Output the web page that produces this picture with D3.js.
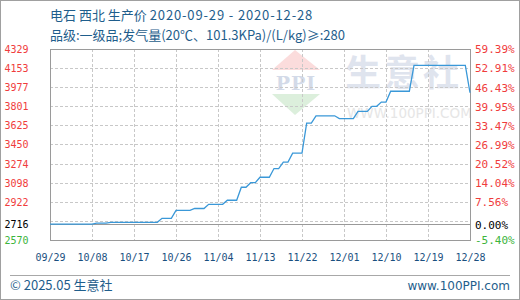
<!DOCTYPE html>
<html>
<head>
<meta charset="utf-8">
<script src="https://cdn.jsdelivr.net/npm/d3@7"></script>
<style>
  body { margin: 0; background: #fff; }
  svg { display: block; }
</style>
</head>
<body>
<svg id="chart" width="520" height="300"></svg>
<script>
// values
const dates = ["2020-09-29","2020-10-08","2020-10-09","2020-10-11","2020-10-12","2020-10-22",
  "2020-10-23","2020-10-25","2020-10-26","2020-10-29","2020-10-30","2020-11-01","2020-11-02",
  "2020-11-05","2020-11-06","2020-11-08","2020-11-09","2020-11-10","2020-11-11","2020-11-12",
  "2020-11-13","2020-11-15","2020-11-16","2020-11-17","2020-11-18","2020-11-19","2020-11-20",
  "2020-11-22","2020-11-23","2020-11-24","2020-11-25","2020-11-29","2020-11-30","2020-12-03",
  "2020-12-04","2020-12-06","2020-12-07","2020-12-08","2020-12-09","2020-12-10","2020-12-11",
  "2020-12-15","2020-12-16","2020-12-27","2020-12-28"];
const prices = [2716,2716,2725,2725,2733,2733,
  2770,2770,2842,2842,2860,2860,2899,
  2899,2936,2936,3056,3056,3098,3098,
  3148,3148,3228,3228,3287,3287,3370,
  3370,3646,3646,3714,3714,3688,3688,
  3755,3755,3801,3801,3840,3840,3940,
  3940,4178,4178,3926];

const leftTicks = [4329,4153,3977,3801,3625,3450,3274,3098,2922,2716,2570];
const rightLabels = ["59.39%","52.91%","46.43%","39.95%","33.47%","26.99%","20.52%","14.04%","7.56%","0.00%","-5.40%"];
const gridValues = [4153,3977,3801,3625,3450,3274,3098,2922,2746];
const xTickDates = ["2020-09-29","2020-10-08","2020-10-17","2020-10-26","2020-11-04","2020-11-13",
  "2020-11-22","2020-12-01","2020-12-10","2020-12-19","2020-12-28"];
const basePrice = 2716;

const parse = d3.timeParse("%Y-%m-%d");
const L = 50, R = 470, T = 49, B = 240;

const svg = d3.select("#chart");
const x = d3.scaleTime().domain([parse("2020-09-29"), parse("2020-12-28")]).range([L, R]);
const y = d3.scaleLinear().domain([2570, 4329]).range([B, T]);

// outer frame
svg.append("rect").attr("x", 0.5).attr("y", 0.5).attr("width", 519).attr("height", 299)
  .attr("fill", "#fff").attr("stroke", "#a0a0a0");

// titles
const titleFont = "'Noto Sans CJK SC', 'Noto Sans', sans-serif";
const t1 = svg.append("text").attr("x", 50).attr("y", 19.5).attr("font-family", titleFont)
  .attr("font-size", 13).attr("fill", "#1f5e8c");
t1.append("tspan").text("电石 西北 生产价 ");
t1.append("tspan").attr("letter-spacing", 0.85).text("2020-09-29 - 2020-12-28");
svg.append("text").attr("x", 50).attr("y", 39.5).attr("font-family", titleFont)
  .attr("font-size", 13).attr("fill", "#1f5e8c").text("品级:一级品;发气量(20℃、101.3KPa)/(L/kg)≥:280");

// watermark
const wm = svg.append("g");
wm.append("path").attr("d", "M295,50L320,70L272,70Z").attr("fill", "#fbdcdc");
wm.append("text").attr("x", 296).attr("y", 90).attr("text-anchor", "middle")
  .attr("font-family", "'DejaVu Serif', serif").attr("font-weight", "bold").attr("font-size", 19)
  .attr("fill", "#d3dae8").attr("letter-spacing", 1).text("PPI");
wm.append("path").attr("d", "M272,94L320,94L295,115Z").attr("fill", "#dcefdc");
wm.append("text").attr("x", 345).attr("y", 86).attr("font-family", titleFont)
  .attr("font-weight", "bold").attr("font-size", 36).attr("fill", "#dfe4ee")
  .attr("letter-spacing", 3).text("生意社");
wm.append("text").attr("x", 347).attr("y", 118).attr("font-family", "'DejaVu Sans', sans-serif")
  .attr("font-size", 13.5).attr("fill", "#e6e6e6").text("WWW.100PPI.COM");

// grid
const grid = svg.append("g").attr("stroke", "#c8c8c8").attr("stroke-dasharray", "3,2")
  .attr("shape-rendering", "crispEdges");
grid.selectAll("line.h").data(gridValues).join("line").attr("class", "h")
  .attr("x1", L).attr("x2", R).attr("y1", d => Math.round(y(d)) + 0.5).attr("y2", d => Math.round(y(d)) + 0.5);
grid.selectAll("line.v").data(xTickDates.slice(1, -1)).join("line").attr("class", "v")
  .attr("y1", T).attr("y2", B)
  .attr("x1", d => Math.round(x(parse(d))) + 0.5).attr("x2", d => Math.round(x(parse(d))) + 0.5);

// base line
svg.append("line").attr("x1", L).attr("x2", R)
  .attr("y1", Math.round(y(basePrice)) + 0.5).attr("y2", Math.round(y(basePrice)) + 0.5)
  .attr("stroke", "#999").attr("shape-rendering", "crispEdges");

// frame
svg.append("rect").attr("x", L + 0.5).attr("y", T + 0.5).attr("width", R - L).attr("height", B - T)
  .attr("fill", "none").attr("stroke", "#9a9a9a").attr("shape-rendering", "crispEdges");

// price line
const series = dates.map((d, i) => ({ date: parse(d), value: prices[i] }));
svg.append("path").datum(series)
  .attr("fill", "none").attr("stroke", "#3a98d8").attr("stroke-width", 1.3)
  .attr("d", d3.line().x(d => x(d.date)).y(d => y(d.value)));

// axes
const tickColor = i => i === leftTicks.length - 1 ? "#3cb43c" : (i === leftTicks.length - 2 ? "#000" : "#f03c3c");
const monoFont = "'DejaVu Sans Mono', monospace";

const yl = svg.append("g").attr("transform", `translate(${L},0)`)
  .call(d3.axisLeft(y).tickValues(leftTicks).tickSize(0).tickFormat(d3.format("d")));
yl.select(".domain").remove();
yl.selectAll("text").attr("x", -21.5).attr("dy", "0.35em").attr("font-family", monoFont)
  .attr("font-size", 10).attr("fill", (d, i) => tickColor(i));

const yr = svg.append("g").attr("transform", `translate(${R},0)`)
  .call(d3.axisRight(y).tickValues(leftTicks).tickSize(0).tickFormat((d, i) => rightLabels[i]));
yr.select(".domain").remove();
yr.selectAll("text").attr("x", 5).attr("dy", "0.35em").attr("font-family", monoFont)
  .attr("font-size", 11).attr("fill", (d, i) => tickColor(i));

const xa = svg.append("g").attr("transform", `translate(0,${B})`)
  .call(d3.axisBottom(x).tickValues(xTickDates.map(parse)).tickSize(0).tickFormat(d3.timeFormat("%m/%d")));
xa.select(".domain").remove();
xa.selectAll("text").attr("y", 17).attr("dy", "0.35em").attr("font-family", monoFont)
  .attr("font-size", 10).attr("fill", "#1a4f80");

// footer
svg.append("line").attr("x1", 10).attr("x2", 510).attr("y1", 275.5).attr("y2", 275.5)
  .attr("stroke", "#a8a8a8");
svg.append("text").attr("x", 10).attr("y", 290).attr("font-family", titleFont)
  .attr("font-size", 13).attr("fill", "#1f5e8c").text("© 2025.05 生意社");
svg.append("text").attr("x", 510).attr("y", 290).attr("text-anchor", "end").attr("font-family", "'DejaVu Sans', sans-serif")
  .attr("font-size", 12).attr("fill", "#1f5e8c").text("www.100PPI.com");
</script>
</body>
</html>
